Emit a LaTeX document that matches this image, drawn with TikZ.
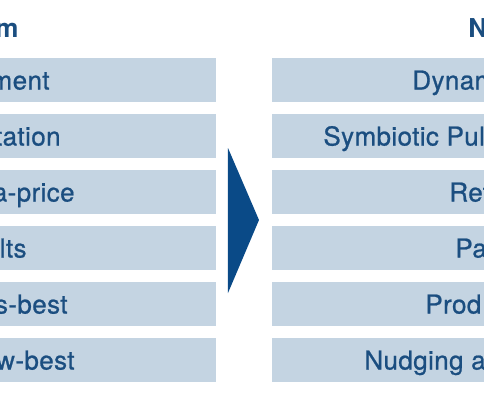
\documentclass[tikz,border=0pt]{standalone}
\usepackage{fontspec}
\setmainfont{TeX Gyre Heros}
\newfontfamily\rowfont{TeX Gyre Heros}[FakeBold=0.8,LetterSpace=1.5]
\usepackage{tikz}
\definecolor{rowfill}{HTML}{C4D4E2}
\definecolor{rowtext}{HTML}{1B4E80}
\definecolor{shiftcolor}{HTML}{0A4A87}
\tikzset{
  cmp row/.style={fill=rowfill,draw=none},
  cmp text/.style={text=rowtext,font=\fontsize{13}{15}\rowfont,inner sep=0pt},
  cmp head/.style={text=rowtext,font=\fontsize{13}{15}\selectfont\bfseries,inner sep=0pt},
  cmp shift/.style={fill=shiftcolor}
}

\begin{document}
\begin{tikzpicture}[x=0.5pt,y=-0.5pt]
  \useasboundingbox (0,0) rectangle (484,404);
  \clip (0,0) rectangle (484,404);
  % column headers
  \node[cmp head,anchor=base east] (headL) at (19,37) {m};
  \node[cmp head,anchor=base west] (headR) at (468,37) {N};
  % rows
  \foreach \i/\ltxt/\lx/\rtxt/\rx in {0/nment/50/Dynam/412,
      1/tation/61/Symbiotic Pul/323, 2/a-price/75/Ret/449,
      3/lts/27/Pa/455, 4/s-best/68/Prod/425, 5/w-best/75/Nudging a/364}{
    \fill[cmp row] (-60,58+56*\i) rectangle (216,102+56*\i);
    \fill[cmp row] (272,58+56*\i) rectangle (560,102+56*\i);
    \node[cmp text,anchor=base east] (left\i) at (\lx,89.5+56*\i) {\ltxt};
    \node[cmp text,anchor=base west] (right\i) at (\rx,89.5+56*\i) {\rtxt};
  }
  % shift arrow
  \fill[cmp shift] (228,148) -- (259,220) -- (228,293) -- cycle;
\end{tikzpicture}
\end{document}
